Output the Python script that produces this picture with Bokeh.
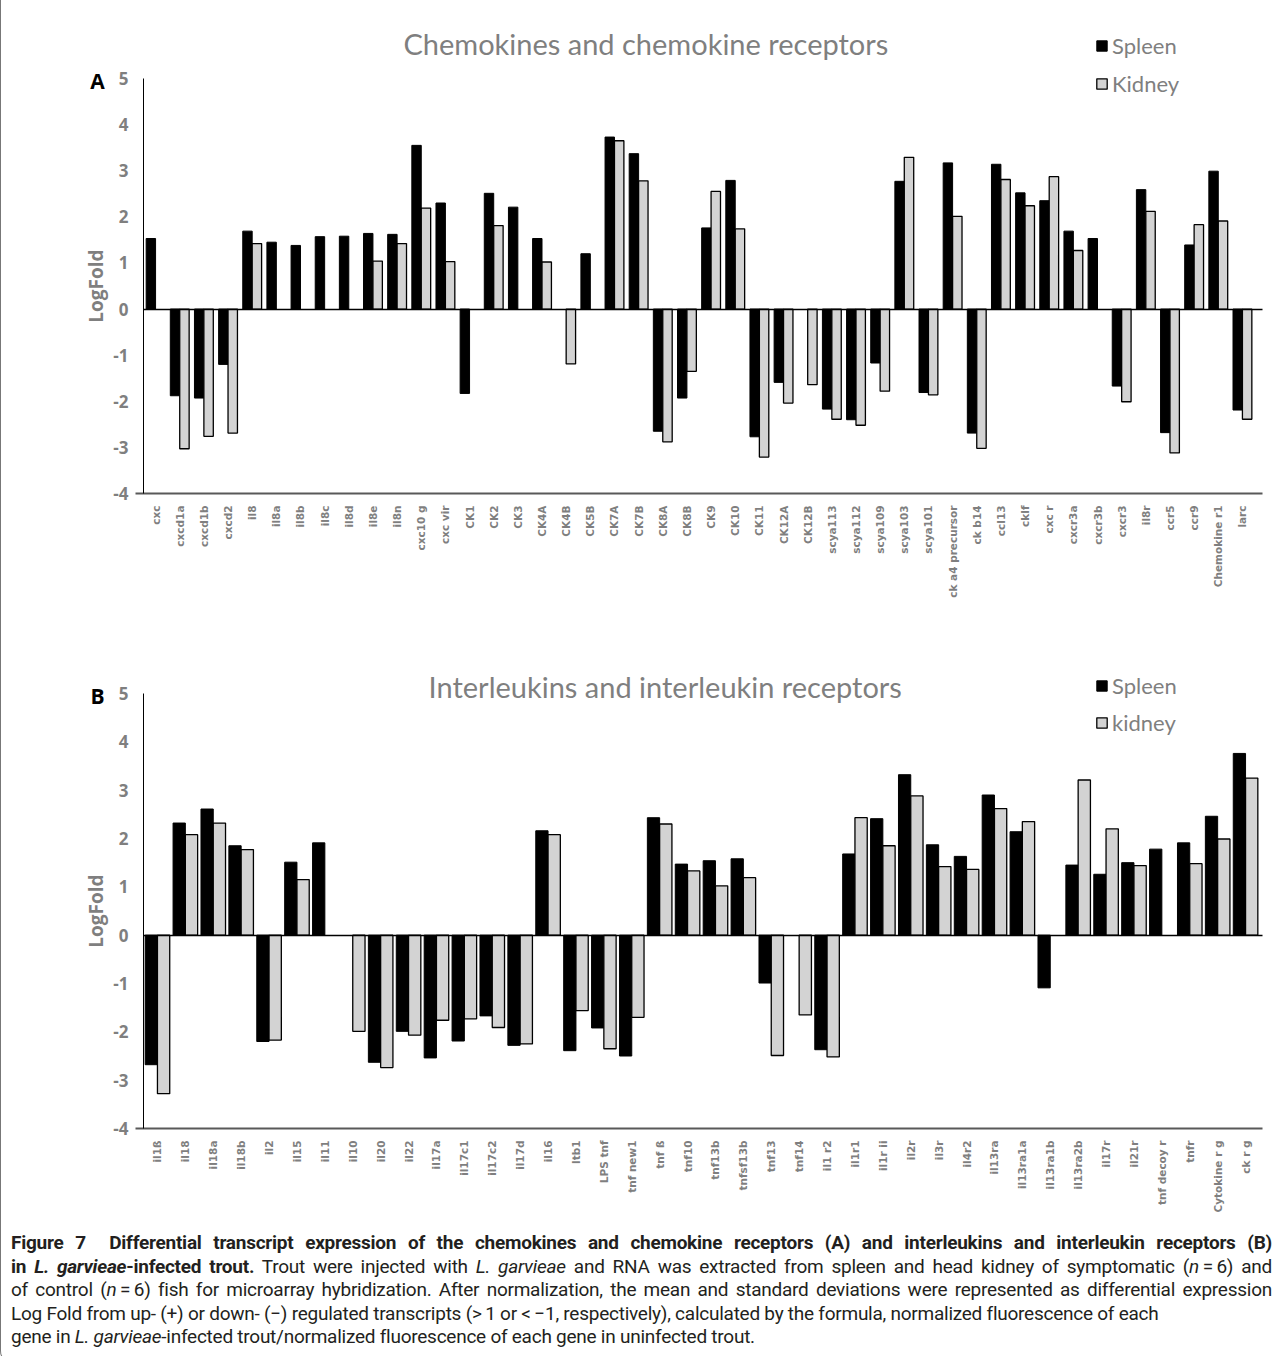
import math
from bokeh.plotting import figure
from bokeh.models import (Range1d, FixedTicker, Label, Legend, LegendItem, LinearAxis,
                          Div, ColumnDataSource)
from bokeh.layouts import column
from bokeh.transform import dodge
from bokeh.embed import file_html
from bokeh.resources import INLINE

# ---------------- data ----------------
chemo_genes = ["cxc", "cxcd1a", "cxcd1b", "cxcd2", "il8", "il8a", "il8b", "il8c", "il8d",
               "il8e", "il8n", "cxc10 g", "cxc vir", "CK1", "CK2", "CK3", "CK4A", "CK4B",
               "CK5B", "CK7A", "CK7B", "CK8A", "CK8B", "CK9", "CK10", "CK11", "CK12A",
               "CK12B", "scya113", "scya112", "scya109", "scya103", "scya101",
               "ck a4 precursor", "ck b14", "ccl13", "cklf", "cxc r", "cxcr3a", "cxcr3b",
               "cxcr3", "il8r", "ccr5", "ccr9", "Chemokine r1", "larc"]
chemo_spleen = [1.53, -1.88, -1.93, -1.20, 1.69, 1.45, 1.38, 1.57, 1.58,
                1.64, 1.62, 3.55, 2.30, -1.83, 2.51, 2.21, 1.53, None,
                1.20, 3.73, 3.37, -2.65, -1.93, 1.76, 2.79, -2.77, -1.59,
                None, -2.17, -2.40, -1.17, 2.77, -1.81,
                3.17, -2.69, 3.14, 2.52, 2.35, 1.69, 1.53,
                -1.67, 2.59, -2.68, 1.39, 2.99, -2.19]
chemo_kidney = [None, -3.03, -2.76, -2.69, 1.42, None, None, None, None,
                1.04, 1.42, 2.19, 1.03, None, 1.81, None, 1.02, -1.19,
                None, 3.65, 2.78, -2.88, -1.35, 2.55, 1.74, -3.21, -2.04,
                -1.64, -2.39, -2.52, -1.78, 3.29, -1.86,
                2.01, -3.02, 2.81, 2.24, 2.87, 1.27, None,
                -2.01, 2.12, -3.12, 1.83, 1.91, -2.39]

inter_genes = ["il1ß", "il18", "il18a", "il18b", "il2", "il15", "il11", "il10", "il20",
               "il22", "il17a", "il17c1", "il17c2", "il17d", "il16", "ltb1", "LPS tnf",
               "tnf new1", "tnf ß", "tnf10", "tnf13b", "tnfsf13b", "tnf13", "tnf14",
               "il1 r2", "il1r1", "il1r ii", "il2r", "il3r", "il4r2", "il13ra",
               "il13ra1a", "il13ra1b", "il13ra2b", "il17r", "il21r", "tnf decoy r",
               "tnfr", "Cytokine r g", "ck r g"]
inter_spleen = [-2.68, 2.32, 2.61, 1.85, -2.20, 1.51, 1.91, None, -2.63,
                -1.99, -2.54, -2.19, -1.67, -2.28, 2.16, -2.39, -1.92,
                -2.50, 2.43, 1.47, 1.54, 1.58, -0.99, None,
                -2.37, 1.68, 2.41, 3.32, 1.87, 1.63, 2.90,
                2.14, -1.09, 1.45, 1.26, 1.50, 1.78,
                1.91, 2.46, 3.76]
inter_kidney = [-3.28, 2.08, 2.32, 1.77, -2.17, 1.15, None, -1.99, -2.74,
                -2.07, -1.76, -1.73, -1.91, -2.25, 2.08, -1.56, -2.35,
                -1.70, 2.30, 1.33, 1.02, 1.19, -2.49, -1.65,
                -2.52, 2.43, 1.85, 2.88, 1.42, 1.36, 2.62,
                2.35, None, 3.21, 2.20, 1.44, None,
                1.48, 1.99, 3.25]

y_ticks = [5, 4, 3, 2, 1, 0, -1, -2, -3, -4]
y_tick_labels = ["5", "4", "3", "2", "1", "0", "-1", "-2", "-3", "-4"]

GREY_TXT = "#7f7f7f"
W = 1281
PAGE_X0 = 1            # page x of the figures' left edge (after the 1px border)
BORDER_L = 79
AXIS_X = 143           # page x of the value axis
AXIS_END = 1262        # page x where the category axis line ends
Y_MIN, Y_MAX = -4, 5


def series_source(values):
    idx = [i for i, v in enumerate(values) if v is not None]
    return ColumnDataSource(dict(x=idx, top=[values[i] for i in idx]))


def panel(genes, spleen, kidney, title, letter, kid_label, fig_top, height, frame_top,
          data_top, data_bottom, plot_r, bar_w, title_x, title_yoff, leg_bottom,
          leg_spacing):
    n = len(genes)
    frame_left = PAGE_X0 + BORDER_L
    px_per_cat = (plot_r - AXIS_X) / n
    x_start = -0.5 - (AXIS_X - frame_left) / px_per_cat
    x_end = n - 0.5 + (PAGE_X0 + W - 2 - plot_r) / px_per_cat
    line_end = n - 0.5 + (AXIS_END - plot_r) / px_per_cat
    frame_bottom = fig_top + height - 2
    px_per_unit = (data_bottom - data_top) / (Y_MAX - Y_MIN)
    y_end = Y_MAX + (data_top - frame_top) / px_per_unit
    y_start = Y_MIN - (frame_bottom - data_bottom) / px_per_unit

    p = figure(width=W, height=height, x_range=Range1d(x_start, x_end),
               y_range=Range1d(y_start, y_end), output_backend="svg",
               toolbar_location=None, min_border_left=BORDER_L,
               min_border_right=2, min_border_top=frame_top - fig_top,
               min_border_bottom=2)
    p.outline_line_color = None
    p.xgrid.visible = False
    p.ygrid.visible = False

    rs = p.vbar(x=dodge("x", -bar_w / 2), top="top", bottom=0, width=bar_w,
                source=series_source(spleen), fill_color="black", line_color="black",
                line_width=1)
    rk = p.vbar(x=dodge("x", bar_w / 2), top="top", bottom=0, width=bar_w,
                source=series_source(kidney), fill_color="#d3d3d3", line_color="black",
                line_width=1.3)

    # category axis, labels below the -4 line
    xa = p.xaxis[0]
    xa.fixed_location = Y_MIN
    xa.bounds = (-0.5 - 8 / px_per_cat, line_end)
    xa.ticker = FixedTicker(ticks=list(range(n)))
    xa.major_label_overrides = {i: g for i, g in enumerate(genes)}
    xa.major_label_orientation = math.pi / 2
    xa.major_tick_line_color = None
    xa.minor_tick_line_color = None
    xa.axis_line_color = "#595959"
    xa.axis_line_width = 2
    xa.major_label_text_font = "DejaVu Sans"
    xa.major_label_text_font_style = "bold"
    xa.major_label_text_font_size = "10.5px"
    xa.major_label_text_color = GREY_TXT
    xa.major_label_standoff = 6

    # zero line
    zero = LinearAxis(fixed_location=0, bounds=(-0.5, line_end),
                      ticker=FixedTicker(ticks=[]), axis_line_color="black",
                      axis_line_width=1.5, major_tick_in=0, major_tick_out=0,
                      minor_tick_in=0, minor_tick_out=0,
                      major_label_text_font_size="0px", major_label_standoff=0)
    p.add_layout(zero, "below")

    # value axis
    ya = p.yaxis[0]
    ya.fixed_location = -0.5
    ya.bounds = (Y_MIN, Y_MAX)
    ya.ticker = FixedTicker(ticks=y_ticks)
    ya.major_label_overrides = dict(zip(y_ticks, y_tick_labels))
    ya.major_tick_line_color = None
    ya.minor_tick_line_color = None
    ya.major_tick_out = 0
    ya.minor_tick_out = 0
    ya.axis_line_color = "black"
    ya.axis_line_width = 1
    ya.major_label_text_font = "Open Sans"
    ya.major_label_text_font_style = "bold"
    ya.major_label_text_font_size = "17px"
    ya.major_label_text_color = GREY_TXT
    ya.major_label_standoff = 15
    ya.axis_label = "LogFold"
    ya.axis_label_text_font = "Open Sans"
    ya.axis_label_text_font_style = "bold"
    ya.axis_label_text_font_size = "19px"
    ya.axis_label_text_color = GREY_TXT
    ya.axis_label_standoff = 1

    # panel title and letter
    p.add_layout(Label(x=title_x, y=Y_MAX, y_offset=title_yoff, text=title,
                       text_align="center", text_baseline="middle", text_font="Lato",
                       text_font_size="29px", text_color=GREY_TXT))
    p.add_layout(Label(x=-0.5, x_offset=-46, y=Y_MAX, y_offset=-2, text=letter,
                       text_align="center", text_baseline="middle", text_font="Open Sans",
                       text_font_style="bold", text_font_size="21px", text_color="black"))

    legend = Legend(items=[LegendItem(label="Spleen", renderers=[rs]),
                           LegendItem(label=kid_label, renderers=[rk])],
                    location=(1095 - frame_left, frame_bottom - leg_bottom),
                    orientation="vertical", padding=0, margin=0, spacing=leg_spacing,
                    glyph_width=13, glyph_height=13, label_height=22, label_standoff=4,
                    label_text_font="Lato", label_text_font_size="22px",
                    label_text_color=GREY_TXT, border_line_color=None,
                    background_fill_alpha=0)
    p.add_layout(legend)
    return p


pA = panel(chemo_genes, chemo_spleen, chemo_kidney, "Chemokines and chemokine receptors",
           "A", "Kidney", fig_top=0, height=638, frame_top=12, data_top=78,
           data_bottom=493, plot_r=1254, bar_w=0.39, title_x=20.3, title_yoff=35,
           leg_bottom=97, leg_spacing=11)
pB = panel(inter_genes, inter_spleen, inter_kidney, "Interleukins and interleukin receptors",
           "B", "kidney", fig_top=638, height=582, frame_top=655, data_top=693,
           data_bottom=1128, plot_r=1259, bar_w=0.44, title_x=18.2, title_yoff=7,
           leg_bottom=736, leg_spacing=10)

# ---------------- caption ----------------
just = "text-align:justify;text-align-last:justify;"
caption_lines = [
    ("<b>Figure 7&nbsp;&nbsp;Differential transcript expression of the chemokines and "
     "chemokine receptors (A) and interleukins and interleukin receptors (B)</b>", True),
    ("<b>in <i>L. garvieae</i>-infected trout.</b> Trout were injected with "
     "<i>L. garvieae</i> and RNA was extracted from spleen and head kidney of symptomatic "
     "(<i>n</i>&#8201;=&#8201;6) and", True),
    ("of control (<i>n</i>&#8201;=&#8201;6) fish for microarray hybridization. After "
     "normalization, the mean and standard deviations were represented as differential "
     "expression", True),
    ("Log Fold from up- (+) or down- (&minus;) regulated transcripts (&gt;&#8201;1 or "
     "&lt;&#8201;&minus;1, respectively), calculated by the formula, normalized "
     "fluorescence of each", False),
    ("gene in <i>L. garvieae</i>-infected trout/normalized fluorescence of each gene in "
     "uninfected trout.", False),
]
html = "".join(
    f'<div style="{just if j else ""}">{t}</div>' for t, j in caption_lines)
html = ('<div style="font-family:Roboto,sans-serif;font-size:19px;letter-spacing:-0.25px;'
        f'line-height:23.5px;color:#231f20;width:{W - 10}px;padding:6px 5px 0 5px;">'
        f'{html}</div>')
cap = Div(text=html, width=W, height=132)

layout = column(pA, pB, cap, spacing=0,
                styles={"border-left": "1px solid #777", "border-right": "1px solid #777",
                        "border-bottom": "1px solid #777",
                        "border-radius": "0 0 12px 12px"})

open("out.html", "w").write(file_html(layout, INLINE))
